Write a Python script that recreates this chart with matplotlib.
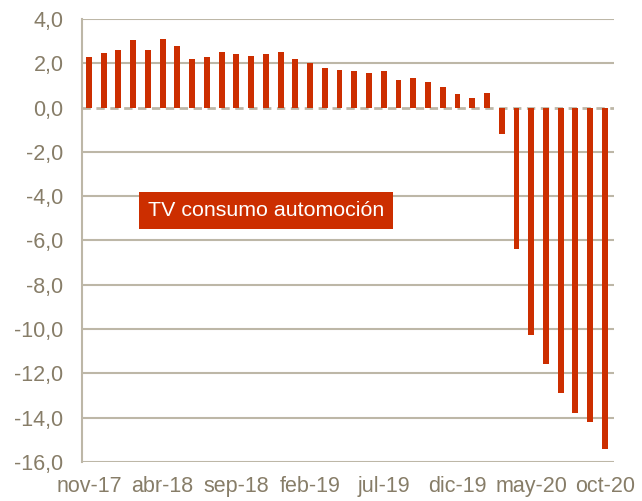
import matplotlib
matplotlib.use('Agg')
import matplotlib.pyplot as plt
import numpy as np

plt.rcParams['font.family'] = ['Liberation Sans', 'DejaVu Sans']

# monthly values, nov-17 .. oct-20
months = ['nov-17', 'dic-17', 'ene-18', 'feb-18', 'mar-18', 'abr-18', 'may-18',
          'jun-18', 'jul-18', 'ago-18', 'sep-18', 'oct-18', 'nov-18', 'dic-18',
          'ene-19', 'feb-19', 'mar-19', 'abr-19', 'may-19', 'jun-19', 'jul-19',
          'ago-19', 'sep-19', 'oct-19', 'nov-19', 'dic-19', 'ene-20', 'feb-20',
          'mar-20', 'abr-20', 'may-20', 'jun-20', 'jul-20', 'ago-20', 'sep-20',
          'oct-20']
values = [2.3, 2.45, 2.6, 3.05, 2.6, 3.1, 2.8, 2.2, 2.3, 2.5, 2.4, 2.35, 2.4,
          2.5, 2.2, 2.0, 1.8, 1.7, 1.65, 1.55, 1.65, 1.25, 1.35, 1.15, 0.95,
          0.6, 0.45, 0.65, -1.2, -6.4, -10.25, -11.6, -12.9, -13.8, -14.2,
          -15.4]
label = 'TV consumo automoción'

bar_color = '#cc2e00'
grid_color = '#bdb7a7'
text_color = '#877d68'

fig = plt.figure(figsize=(6.42, 5.01), dpi=100)
ax = fig.add_axes([0.127, 0.078, 0.829, 0.884])

x = np.arange(len(values))
ax.bar(x, values, width=0.4, color=bar_color, zorder=3)

yticks = np.arange(-16, 5, 2)
for yv in yticks:
    if yv == 0:
        ax.axhline(0, color=grid_color, lw=2, ls=(0, (3, 2)), zorder=2)
    else:
        ax.axhline(yv, color=grid_color, lw=1.5, zorder=1)

ax.set_ylim(-16, 4)
ax.set_xlim(-0.5, 35.6)
ax.set_yticks(yticks)
ax.set_yticklabels([f'{v:.1f}'.replace('.', ',') for v in yticks])
ax.set_xticks(x[::5])
ax.set_xticklabels(months[::5])
ax.tick_params(length=0, labelsize=15.5, colors=text_color)
ax.tick_params(axis='y', pad=13)
ax.tick_params(axis='x', pad=10)

for s in ['top', 'right', 'bottom']:
    ax.spines[s].set_visible(False)
ax.spines['left'].set_color(grid_color)
ax.spines['left'].set_linewidth(1.5)

fig.text(266 / 642, 1 - 210.5 / 501, label, color='white', fontsize=15.4,
         ha='center', va='center',
         bbox=dict(boxstyle='square,pad=0.42', fc=bar_color, ec='none'))

fig.savefig('out.png', dpi=100)
